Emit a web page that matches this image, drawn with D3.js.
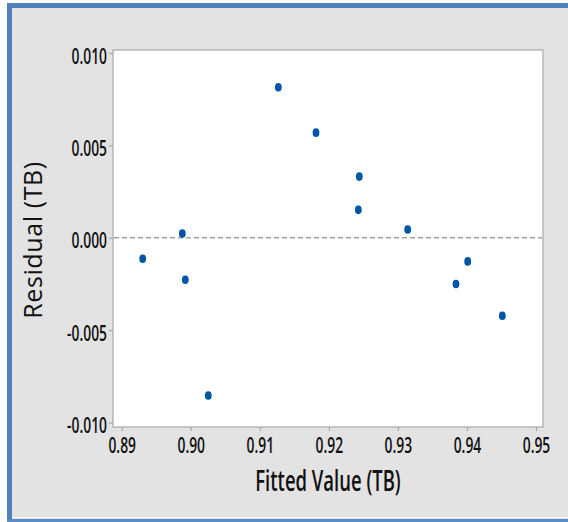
<!DOCTYPE html>
<html>
<head>
<meta charset="utf-8">
<script src="https://cdn.jsdelivr.net/npm/d3@7"></script>
<style>
  html, body { margin: 0; padding: 0; background: #ffffff; }
  svg { display: block; }
  text { font-family: "Open Sans", "Noto Sans", sans-serif; fill: #111; }
</style>
</head>
<body>
<svg id="chart" width="568" height="522"></svg>
<script>
// Fitted values and residuals for TB
const fitted = [0.89304, 0.89878, 0.89921, 0.90254, 0.91268, 0.91814,
                0.92441, 0.92427, 0.93142, 0.93841, 0.94011, 0.94512];
const residual = [-0.00114, 0.00023, -0.00227, -0.00854, 0.00815, 0.00569,
                  0.00331, 0.00151, 0.00045, -0.00250, -0.00128, -0.00422];
const xTicks = [0.89, 0.90, 0.91, 0.92, 0.93, 0.94, 0.95];
const yTicks = [-0.010, -0.005, 0.000, 0.005, 0.010];
const xTitle = "Fitted Value (TB)";
const yTitle = "Residual (TB)";

const W = 568, H = 522;
const svg = d3.select("#chart");

// outer panel with blue frame
svg.append("rect").attr("x", 7).attr("y", 3).attr("width", W - 7).attr("height", H - 3)
  .attr("fill", "#e3e3e3");
svg.append("rect").attr("x", 7).attr("y", 3).attr("width", W - 7).attr("height", 5)
  .attr("fill", "#4f81bd");
svg.append("rect").attr("x", 7).attr("y", 3).attr("width", 5).attr("height", H - 3)
  .attr("fill", "#4f81bd");
svg.append("rect").attr("x", 12).attr("y", 517).attr("width", W - 12).attr("height", 1)
  .attr("fill", "#f4f4f4");
svg.append("rect").attr("x", 7).attr("y", 519).attr("width", W - 7).attr("height", 3)
  .attr("fill", "#5b8cc8");

// plot frame
const plot = { left: 113, top: 50, right: 543, bottom: 427 };
svg.append("rect")
  .attr("x", plot.left).attr("y", plot.top)
  .attr("width", plot.right - plot.left).attr("height", plot.bottom - plot.top)
  .attr("fill", "#ffffff").attr("stroke", "#a8a8a8").attr("stroke-width", 1.2);

const x = d3.scaleLinear().domain([0.89, 0.95]).range([121.7, 536]);
const y = d3.scaleLinear().domain([-0.010, 0.010]).range([422.5, 53]);

const squeeze = 0.63;

// x axis
const xAxis = svg.append("g").attr("transform", `translate(0,${plot.bottom})`)
  .call(d3.axisBottom(x).tickValues(xTicks).tickSize(4).tickFormat(d3.format(".2f")));
xAxis.select(".domain").remove();
xAxis.selectAll(".tick line").attr("stroke", "#a8a8a8").attr("stroke-width", 1.2);
xAxis.selectAll(".tick text")
  .attr("y", 0).attr("dy", null)
  .attr("font-size", 22).attr("font-weight", 600)
  .attr("transform", `translate(0,26) scale(${squeeze},1)`)
  .style("fill", "#111");

// y axis
const yAxis = svg.append("g").attr("transform", `translate(${plot.left},0)`)
  .call(d3.axisLeft(y).tickValues(yTicks).tickSize(4).tickFormat(d3.format(".3f")));
yAxis.select(".domain").remove();
yAxis.selectAll(".tick line").attr("stroke", "#a8a8a8").attr("stroke-width", 1.2);
yAxis.selectAll(".tick text")
  .attr("x", 0).attr("dy", null).attr("y", 0)
  .attr("font-size", 22).attr("font-weight", 600)
  .attr("text-anchor", "end")
  .attr("transform", `translate(-6,10) scale(${squeeze},1)`)
  .text(d => d3.format(".3f")(d).replace("−", "-"))
  .style("fill", "#111");

// reference line at zero
svg.append("line")
  .attr("x1", plot.left + 1).attr("x2", plot.right - 1)
  .attr("y1", y(0)).attr("y2", y(0))
  .attr("stroke", "#a3a3a3").attr("stroke-width", 1.5)
  .attr("stroke-dasharray", "5,3");

// residual points
svg.append("g").selectAll("ellipse")
  .data(fitted.map((f, i) => [f, residual[i]]))
  .join("ellipse")
  .attr("cx", d => x(d[0])).attr("cy", d => y(d[1]))
  .attr("rx", 3.4).attr("ry", 4.3)
  .attr("fill", "#0055a6");

// axis titles
svg.append("text")
  .attr("transform", `translate(${(plot.left + plot.right) / 2},491) scale(0.66,1)`)
  .attr("text-anchor", "middle")
  .attr("font-size", 28).attr("font-weight", 600)
  .text(xTitle);

svg.append("text")
  .attr("transform", `translate(42,240) rotate(-90)`)
  .attr("text-anchor", "middle")
  .attr("font-size", 25)
  .attr("letter-spacing", 0.6)
  .text(yTitle);
</script>
</body>
</html>
